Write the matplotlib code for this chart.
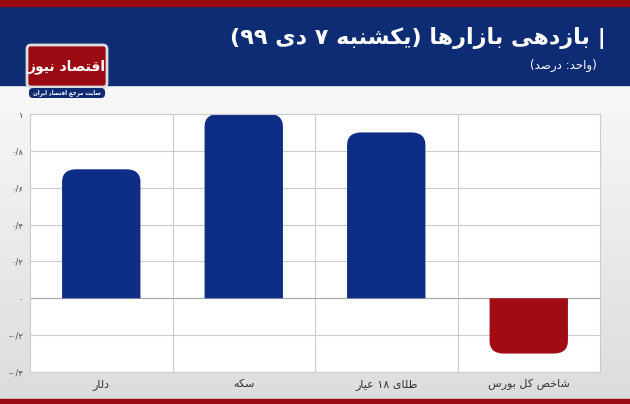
import matplotlib.pyplot as plt
from matplotlib.patches import PathPatch, FancyBboxPatch, Rectangle
from matplotlib.path import Path
import numpy as np

categories = ['دلار', 'سکه', 'طلای ۱۸ عیار', 'شاخص کل بورس']
values = [0.7, 1.0, 0.9, -0.3]
yticks = [-0.4, -0.2, 0, 0.2, 0.4, 0.6, 0.8, 1.0]
ytick_labels = ['-۰/۴', '-۰/۲', '۰', '۰/۲', '۰/۴', '۰/۶', '۰/۸', '۱']

# minimal arabic/persian shaping: (isolated, final, initial, medial)
FORMS = {
    'ا': (0xFE8D, 0xFE8E, None, None), 'ب': (0xFE8F, 0xFE90, 0xFE91, 0xFE92),
    'پ': (0xFB56, 0xFB57, 0xFB58, 0xFB59), 'ت': (0xFE95, 0xFE96, 0xFE97, 0xFE98),
    'ح': (0xFEA1, 0xFEA2, 0xFEA3, 0xFEA4), 'خ': (0xFEA5, 0xFEA6, 0xFEA7, 0xFEA8),
    'د': (0xFEA9, 0xFEAA, None, None), 'ر': (0xFEAD, 0xFEAE, None, None),
    'ز': (0xFEAF, 0xFEB0, None, None), 'س': (0xFEB1, 0xFEB2, 0xFEB3, 0xFEB4),
    'ش': (0xFEB5, 0xFEB6, 0xFEB7, 0xFEB8), 'ص': (0xFEB9, 0xFEBA, 0xFEBB, 0xFEBC),
    'ط': (0xFEC1, 0xFEC2, 0xFEC3, 0xFEC4), 'ع': (0xFEC9, 0xFECA, 0xFECB, 0xFECC),
    'ف': (0xFED1, 0xFED2, 0xFED3, 0xFED4), 'ق': (0xFED5, 0xFED6, 0xFED7, 0xFED8),
    'ک': (0xFB8E, 0xFB8F, 0xFB90, 0xFB91), 'ل': (0xFEDD, 0xFEDE, 0xFEDF, 0xFEE0),
    'م': (0xFEE1, 0xFEE2, 0xFEE3, 0xFEE4), 'ن': (0xFEE5, 0xFEE6, 0xFEE7, 0xFEE8),
    'ه': (0xFEE9, 0xFEEA, 0xFEEB, 0xFEEC), 'و': (0xFEED, 0xFEEE, None, None),
    'ی': (0xFBFC, 0xFBFD, 0xFBFE, 0xFBFF), 'ج': (0xFE9D, 0xFE9E, 0xFE9F, 0xFEA0),
}


def shape_word(w):
    out = []
    for i, c in enumerate(w):
        if c not in FORMS:
            out.append(c)
            continue
        prev = w[i - 1] if i > 0 else None
        nxt = w[i + 1] if i < len(w) - 1 else None
        join_prev = prev in FORMS and FORMS[prev][2] is not None
        join_next = nxt in FORMS and FORMS[c][2] is not None
        f = FORMS[c]
        if join_prev and join_next:
            code = f[3]
        elif join_prev:
            code = f[1]
        elif join_next:
            code = f[2]
        else:
            code = f[0]
        out.append(chr(code))
    s = ''.join(out)
    if all(ch in '۰۱۲۳۴۵۶۷۸۹' for ch in s):
        return s
    return s[::-1]


def rtl(text):
    # words in visual (left to right) order
    return ' '.join(shape_word(w) for w in reversed(text.split(' ')))


FONT = ['DejaVu Sans']
fig = plt.figure(figsize=(6.3, 4.04), dpi=100)

# background
bg = fig.add_axes([0, 0, 1, 1])
grad = np.linspace(0.97, 0.86, 100).reshape(-1, 1)
bg.imshow(grad, extent=[0, 630, 404, 85], cmap='gray', vmin=0, vmax=1, aspect='auto')
bg.add_patch(Rectangle((0, 0), 630, 85, color='#0d2c74'))
bg.add_patch(Rectangle((0, 0), 630, 6, color='#9b0a12'))
bg.add_patch(Rectangle((0, 399), 630, 5, color='#9b0a12'))
bg.set_xlim(0, 630)
bg.set_ylim(404, 0)
bg.axis('off')

# logo
bg.add_patch(FancyBboxPatch((29, 47), 76, 38, boxstyle='round,pad=2,rounding_size=4',
                            fc='#9b0a12', ec='#dddddd', lw=2))
bg.text(67, 67, rtl('اقتصاد نیوز'), family=FONT, color='white', fontsize=10,
        fontweight='bold', ha='center', va='center')
bg.add_patch(FancyBboxPatch((30, 89), 74, 8, boxstyle='round,pad=1,rounding_size=4',
                            fc='#0d2c74', ec='none'))
bg.text(67, 93, rtl('سایت مرجع اقتصاد ایران'), family=FONT, color='white', fontsize=4,
        fontweight='bold', ha='center', va='center')

# title
title = '(' + rtl('یکشنبه ۷ دی ۹۹') + ') ' + rtl('بازدهی بازارها') + ' |'
bg.text(606, 38, title, family=FONT, color='white', fontsize=16, fontweight='bold',
        ha='right', va='center')
bg.text(597, 65, '(' + rtl('واحد: درصد') + ')', family=FONT, color='white', fontsize=8.5,
        ha='right', va='center')

# chart
ax = fig.add_axes([30 / 630, 1 - 372 / 404, 570 / 630, 258 / 404])
ax.set_facecolor('white')
ax.set_xlim(-0.5, 3.5)
ax.set_ylim(-0.4, 1.0)
for y in yticks:
    ax.axhline(y, color='#cccccc', lw=0.8, zorder=0)
for x in [0.5, 1.5, 2.5]:
    ax.axvline(x, color='#cccccc', lw=0.8, zorder=0)

w = 0.55
rx, ry = 0.1, 0.07
for i, v in enumerate(values):
    x0, x1 = i - w / 2, i + w / 2
    s = 1 if v >= 0 else -1
    r = min(ry, abs(v))
    verts = [(x0, 0), (x0, v - s * r), (x0, v), (x0 + rx, v),
             (x1 - rx, v), (x1, v), (x1, v - s * r), (x1, 0), (x0, 0)]
    codes = [Path.MOVETO, Path.LINETO, Path.CURVE3, Path.CURVE3,
             Path.LINETO, Path.CURVE3, Path.CURVE3, Path.LINETO, Path.CLOSEPOLY]
    color = '#0e2d87' if v >= 0 else '#a10c14'
    ax.add_patch(PathPatch(Path(verts, codes), fc=color, ec='none', zorder=2))
ax.axhline(0, color='#aaaaaa', lw=0.8, zorder=1)

ax.set_yticks(yticks)
ax.set_yticklabels(ytick_labels, family=FONT, fontsize=6, color='#444444')
ax.set_xticks(range(len(categories)))
ax.set_xticklabels([rtl(c) for c in categories], family=FONT, fontsize=8, color='#333333')
ax.tick_params(length=0, pad=5)
for sp in ax.spines.values():
    sp.set_color('#cccccc')
    sp.set_linewidth(0.8)

fig.savefig('out.png', dpi=100)
